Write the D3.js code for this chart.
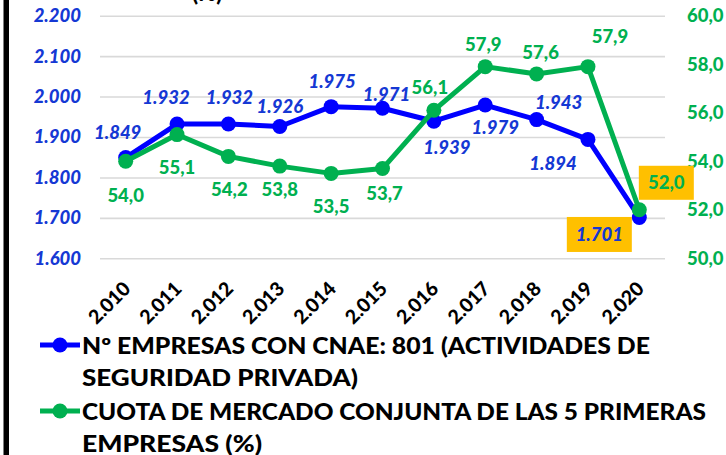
<!DOCTYPE html>
<html>
<head>
<meta charset="utf-8">
<script src="https://cdn.jsdelivr.net/npm/d3@7"></script>
<style>
  html, body { margin: 0; padding: 0; background: #ffffff; }
  svg { display: block; }
  text { font-family: Lato, "Open Sans", sans-serif; font-weight: 900; }
</style>
</head>
<body>
<svg id="chart" width="726" height="455"></svg>
<script>
// ---- data ----
const years = [2010, 2011, 2012, 2013, 2014, 2015, 2016, 2017, 2018, 2019, 2020];
const empresas = [1849, 1932, 1932, 1926, 1975, 1971, 1939, 1979, 1943, 1894, 1701];
const cuota = [54.0, 55.1, 54.2, 53.8, 53.5, 53.7, 56.1, 57.9, 57.6, 57.9, 52.0];
const leftTicks = [1600, 1700, 1800, 1900, 2000, 2100, 2200];
const rightTicks = [50, 52, 54, 56, 58, 60];
const legendEmpresas = ["Nº EMPRESAS CON CNAE:  801 (ACTIVIDADES DE", "SEGURIDAD PRIVADA)"];
const legendCuota = ["CUOTA DE MERCADO CONJUNTA DE LAS 5 PRIMERAS", "EMPRESAS (%)"];
const titleFragment = "(%)";

// label placement (offsets from the point, in px) - layout only
const empresasLabelOffsets = [[-8,-25],[-11,-27],[1,-27],[0,-20],[1,-25],[4,-14],[13,26],[10,22],[22,-17],[-35,24],[-40,17]];
const cuotaLabelOffsets = [[0,34],[0,33],[1,33],[0,23],[0,33],[2,25],[-4,-23],[-2,-22],[4,-22],[22,-30],[27,-27]];

// ---- setup ----
const loc = d3.formatLocale({decimal: ",", thousands: ".", grouping: [3], currency: ["", ""]});
const fmtInt = loc.format(",");
const fmtPct = loc.format(",.1f");

const BLUE_LINE = "#0000ff";
const BLUE_TEXT = "#1538d4";
const GREEN = "#00b050";
const GOLD = "#ffc000";
const FW = 900;

const svg = d3.select("#chart");
const plot = {left: 100, right: 665, top: 15.7, bottom: 258.3};

const x = d3.scaleBand().domain(years).range([plot.left, plot.right]);
const cx = d => x(d) + x.bandwidth() / 2;
const yL = d3.scaleLinear().domain([1600, 2200]).range([plot.bottom, plot.top]);
const yR = d3.scaleLinear().domain([50, 60]).range([plot.bottom, plot.top]);

// left black bar
svg.append("rect").attr("x", 3.5).attr("y", 0).attr("width", 5.5).attr("height", 455).attr("fill", "#000");

// title fragment (cut off at top, as in the reference)
svg.append("text").attr("x", 192).attr("y", 1).attr("font-size", 22).attr("fill", "#000").text(titleFragment);

// gridlines
svg.append("g")
  .attr("transform", `translate(${plot.left},0)`)
  .call(d3.axisLeft(yL).tickValues(leftTicks).tickSize(-(plot.right - plot.left)).tickFormat(""))
  .call(g => g.select(".domain").remove())
  .call(g => g.selectAll(".tick line").attr("stroke", "#d9d9d9").attr("stroke-width", 1.6));

// left axis
svg.append("g")
  .attr("transform", `translate(${plot.left},0)`)
  .call(d3.axisLeft(yL).tickValues(leftTicks).tickSize(0).tickPadding(19).tickFormat(fmtInt))
  .call(g => g.select(".domain").remove())
  .call(g => g.selectAll(".tick text")
    .attr("font-family", "Lato, sans-serif").attr("font-weight", FW).attr("font-style", "italic")
    .attr("font-size", 18.5).attr("fill", BLUE_TEXT));

// right axis
svg.append("g")
  .attr("transform", `translate(${plot.right},0)`)
  .call(d3.axisRight(yR).tickValues(rightTicks).tickSize(0).tickPadding(22).tickFormat(fmtPct))
  .call(g => g.select(".domain").remove())
  .call(g => g.selectAll(".tick text")
    .attr("font-family", "Lato, sans-serif").attr("font-weight", FW)
    .attr("font-size", 18.5).attr("fill", GREEN));

// x axis labels (rotated)
svg.append("g").selectAll("text").data(years).join("text")
  .attr("transform", d => `translate(${cx(d) + 6},${290}) rotate(-45)`)
  .attr("text-anchor", "end")
  .attr("font-size", 19.5)
  .attr("fill", "#000")
  .text(d => fmtInt(d));

// lines
function drawSeries(values, yScale, color) {
  const line = d3.line().x((d, i) => cx(years[i])).y(d => yScale(d));
  svg.append("path").datum(values)
    .attr("d", line).attr("fill", "none").attr("stroke", color)
    .attr("stroke-width", 5).attr("stroke-linejoin", "round");
  svg.append("g").selectAll("circle").data(values).join("circle")
    .attr("cx", (d, i) => cx(years[i])).attr("cy", d => yScale(d))
    .attr("r", 7.5).attr("fill", color);
}
drawSeries(empresas, yL, BLUE_LINE);
drawSeries(cuota, yR, GREEN);

// data labels
function drawLabels(values, yScale, offsets, fmt, color, italic, boxIndex, boxW, boxH) {
  const g = svg.append("g");
  values.forEach((v, i) => {
    const px = cx(years[i]) + offsets[i][0];
    const py = yScale(v) + offsets[i][1];
    if (i === boxIndex) {
      g.append("rect").attr("x", px - boxW / 2).attr("y", py - boxH / 2)
        .attr("width", boxW).attr("height", boxH).attr("fill", GOLD);
    }
    g.append("text").attr("x", px).attr("y", py).attr("dy", "0.36em")
      .attr("text-anchor", "middle").attr("font-size", 18.5)
      .attr("font-style", italic ? "italic" : "normal")
      .attr("fill", color).text(fmt(v));
  });
}
drawLabels(empresas, yL, empresasLabelOffsets, fmtInt, BLUE_TEXT, true, 10, 65, 35);
drawLabels(cuota, yR, cuotaLabelOffsets, fmtPct, GREEN, false, 10, 55, 34);

// legend
function legendItem(lines, color, yCenter, widths) {
  svg.append("line").attr("x1", 40).attr("x2", 80).attr("y1", yCenter).attr("y2", yCenter)
    .attr("stroke", color).attr("stroke-width", 5);
  svg.append("circle").attr("cx", 60).attr("cy", yCenter).attr("r", 7.5).attr("fill", color);
  lines.forEach((t, i) => {
    svg.append("text").attr("x", 82).attr("y", yCenter + 8.5 + i * 32)
      .attr("font-size", 22).attr("fill", "#000")
      .attr("textLength", widths[i]).attr("lengthAdjust", "spacingAndGlyphs")
      .text(t);
  });
}
legendItem(legendEmpresas, BLUE_LINE, 345, [568, 276]);
legendItem(legendCuota, GREEN, 411, [624, 180]);
</script>
</body>
</html>
